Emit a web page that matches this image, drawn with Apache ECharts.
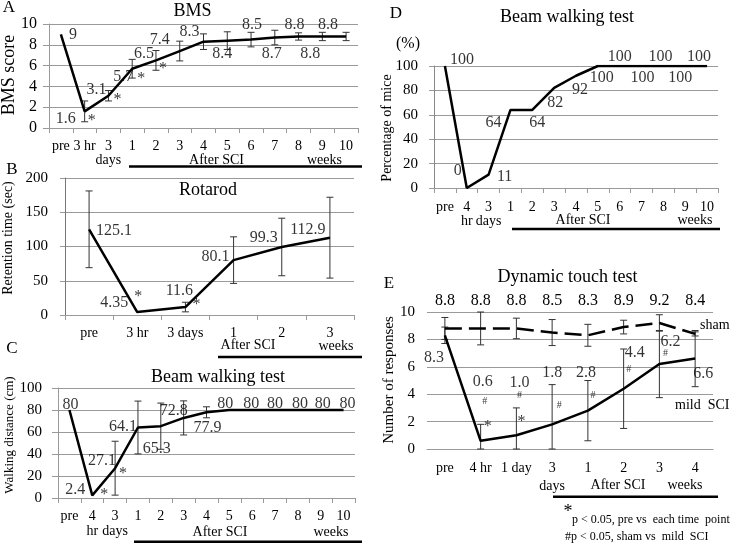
<!DOCTYPE html>
<html><head><meta charset="utf-8">
<script src="https://cdn.jsdelivr.net/npm/echarts@6/dist/echarts.min.js"></script>
<style>html,body{margin:0;padding:0;background:#fff}#c{width:731px;height:544px}</style>
</head><body><div id="c"></div>
<script>
// ---------- Panel A: BMS ----------
const catA = ['pre','3 hr','3\ndays','1','2','3','4','5','6','7','8','9','10'];
const bms = [9,1.6,3.1,5.7,6.5,7.4,8.3,8.4,8.5,8.7,8.8,8.8,8.8];
const bmsErr = [0,1.0,0.5,0.9,0.95,0.95,0.75,0.85,0.7,0.7,0.35,0.4,0.4];
const bmsStar = [0,1,1,1,1,0,0,0,0,0,0,0,0];
// ---------- Panel B: Rotarod ----------
const catB = ['pre','3 hr','3 days','1','2','3'];
const rotarod = [125.1,4.35,11.6,80.1,99.3,112.9];
const rotErr = [56,0,7,34,42,59];
const rotStar = [0,1,1,0,0,0];
// ---------- Panel C: Beam walking distance ----------
const catC = ['pre','4\nhr','3\ndays','1','2','3','4','5','6','7','8','9','10'];
const walkDist = [80,2.4,27.1,64.1,65.3,72.8,77.9,80,80,80,80,80,80];
const walkErr = [0,0,24.5,24,21,15.5,5,0,0,0,0,0,0];
const walkStar = [0,1,1,0,0,0,0,0,0,0,0,0,0];
// ---------- Panel D: Beam walking percentage ----------
const catD = ['pre','4\nhr','3\ndays','1','2','3','4','5','6','7','8','9','10'];
const pctMice = [100,0,11,64,64,82,92,100,100,100,100,100,100];
// ---------- Panel E: Dynamic touch ----------
const catE = ['pre','4 hr','1 day','3\ndays','1','2','3','4'];
const sham = [8.8,8.8,8.8,8.5,8.3,8.9,9.2,8.4];
const shamErr = [0.8,1.2,0.75,0.95,0.8,0.5,0.6,0.15];
const mild = [8.3,0.6,1.0,1.8,2.8,4.4,6.2,6.6];
const mildErr = [0.6,1.2,2.0,2.9,2.2,2.9,2.45,2.05];
const mildStar = [0,1,1,0,0,0,0,0];
const mildHash = [0,1,1,1,1,1,1,0];

// ---------- label placement (style only) ----------
const offA = [[12,0],[-19,7],[-12,-6],[-9,8],[-12,-7],[-20,-11],[-14,-10],[-5,13],[1,-15],[-3,16],[-4,-12],[-12,17],[-18,-12]];
const offB = [[25,1],[-23,-9],[-6,-16],[-18,-3],[-18,-9],[-22,-8]];
const offC = [[1,-5],[-17,-6],[-13,-7],[-15,-1],[-4,23],[-10,-7],[1,15],[-4,-6],[-1,-6],[0,-6],[2,-6],[2,-6],[4,-6]];
const offD = [[17,-6],[-9,-17],[16,2],[-17,13],[5,13],[1,15],[4,14],[4,12],[0,-9],[1,12],[-3,-9],[-5,12],[-8,-9]];
const offE = [[-11,23],[2,-59],[3,-53],[0,-52],[-2,-38],[11,-36],[11,-22],[8,15]];
const starOffA = [null,[7,9],[9,4],[9,10],[7,8]];
const starOffB = [null,[1,-15],[11,-2]];
const starOffC = [null,[12,-1],[8,6]];
const starOffE = [null,[7,-14],[5,-14]];
const hashOffE = [null,[4,-39],[3,-40],[7,-19],[5,-15],[5,-19],[6,-11]];

const FONT = '"Liberation Serif","Times New Roman",serif';
const GRID = '#9a9a9a';

function xAx(k, cats, o) {
  o = o || {};
  return {gridIndex:k, type:'category', data:cats, boundaryGap:true,
    axisLine:{show:true, lineStyle:{color:GRID, width:1}},
    axisTick:{show:o.tick!==false, length:5, lineStyle:{color:GRID}},
    axisLabel:{color:'#000', fontFamily:FONT, fontSize:14, margin:o.margin||11, lineHeight:o.lh||15, interval:0}};
}
function yAx(k, max, step, o) {
  o = o || {};
  return {gridIndex:k, type:'value', min:0, max:max, interval:step,
    axisLine:{show:o.line!==false, lineStyle:{color:o.lineColor||GRID}},
    axisTick:{show:o.tick!==false, length:o.tl||5, lineStyle:{color:GRID}},
    splitLine:{show:true, lineStyle:{color:GRID, width:1}},
    axisLabel:{color:'#000', fontFamily:FONT, fontSize:o.fs||15, margin:o.margin||12}};
}
function lineS(k, vals, dashed, xi) {
  return {type:'line', xAxisIndex:xi===undefined?k:xi, yAxisIndex:k, data:vals, symbol:'none', z:5,
    lineStyle:{color:'#000', width:2.5, type: dashed?[17,7]:'solid'}, silent:true};
}
function errS(k, vals, errs, xi) {
  return {type:'custom', xAxisIndex:xi===undefined?k:xi, yAxisIndex:k, z:4, silent:true,
    renderItem:function(p, api){
      const i = api.value(0), lo = Math.max(0, api.value(1)), hi = api.value(2);
      if (!(hi - lo > 0.001)) return null;
      const a = api.coord([i, hi]), b = api.coord([i, lo]), w = 3.5;
      const st = {stroke:'#333', lineWidth:1};
      return {type:'group', children:[
        {type:'line', shape:{x1:a[0],y1:a[1],x2:b[0],y2:b[1]}, style:st},
        {type:'line', shape:{x1:a[0]-w,y1:a[1],x2:a[0]+w,y2:a[1]}, style:st},
        {type:'line', shape:{x1:b[0]-w,y1:b[1],x2:b[0]+w,y2:b[1]}, style:st}]};
    },
    data: vals.map((v,i)=>[i, v-errs[i], v+errs[i]])};
}
function labS(k, vals, offs, fmt, fs, flags, text, xi) {
  const data = [];
  let n = 0;
  vals.forEach((v,i)=>{
    if (flags && !flags[i]) return;
    n++;
    const off = flags ? offs[n] : offs[i];
    data.push({value:[i,v], label:{offset:off, formatter: text || fmt(v)}});
  });
  return {type:'scatter', xAxisIndex:xi===undefined?k:xi, yAxisIndex:k, symbolSize:1, z:6, silent:true,
    itemStyle:{color:'rgba(0,0,0,0)'},
    label:{show:true, position:'inside', color:'#000', fontFamily:FONT, fontSize:fs, align:'center', verticalAlign:'middle'},
    data:data};
}
const str = v => String(v);
const f1 = v => v.toFixed(1);

function T(text, x, y, fs, extra) {
  return Object.assign({type:'text', x:x, y:y, silent:true,
    style:{text:text, fontFamily:FONT, fontSize:fs, fill:'#000', align:'center', verticalAlign:'middle'}}, extra||{});
}
function TL(text, x, y, fs) {
  return {type:'text', x:x, y:y, silent:true,
    style:{text:text, fontFamily:FONT, fontSize:fs, fill:'#000', align:'left', verticalAlign:'middle'}};
}
function L(x1, x2, y) {
  return {type:'line', silent:true, shape:{x1:x1,y1:y,x2:x2,y2:y}, style:{stroke:'#000', lineWidth:2.5}};
}
const R = Math.PI/2;

const option = {
  animation:false,
  grid:[
    {left:49, top:24, width:309, height:104},
    {left:65, top:178, width:289, height:137},
    {left:58, top:388, width:297, height:110},
    {left:434, top:66, width:284, height:122},
    {left:427, top:312, width:286, height:137}
  ],
  xAxis:[
    xAx(0, catA, {margin:11, lh:14}),
    xAx(1, catB, {margin:11, lh:14}),
    xAx(2, catC, {margin:11, lh:15}),
    xAx(3, catD, {margin:12, lh:14}),
    xAx(4, catE, {margin:10, lh:18, tick:false}),
    {gridIndex:4, type:'category', position:'top', data:sham.map(f1), boundaryGap:true,
      axisLine:{show:false}, axisTick:{show:false},
      axisLabel:{color:'#000', fontFamily:FONT, fontSize:16, margin:3, interval:0}}
  ],
  yAxis:[
    yAx(0, 10, 2, {fs:16, margin:12, tl:6}),
    yAx(1, 200, 50, {fs:15, margin:17, lineColor:'#777'}),
    yAx(2, 100, 20, {fs:15, margin:16, tl:6}),
    yAx(3, 100, 20, {fs:15, margin:16, lineColor:'#888'}),
    yAx(4, 10, 2, {fs:15, margin:12, line:false, tick:false})
  ],
  series:[
    lineS(0, bms), errS(0, bms, bmsErr), labS(0, bms, offA, str, 16),
    labS(0, bms, starOffA, null, 16, bmsStar, '*'),
    lineS(1, rotarod), errS(1, rotarod, rotErr), labS(1, rotarod, offB, str, 16),
    labS(1, rotarod, starOffB, null, 16, rotStar, '*'),
    lineS(2, walkDist), errS(2, walkDist, walkErr), labS(2, walkDist, offC, str, 16),
    labS(2, walkDist, starOffC, null, 16, walkStar, '*'),
    lineS(3, pctMice), labS(3, pctMice, offD, str, 16),
    lineS(4, sham, true), errS(4, sham, shamErr),
    lineS(4, mild), errS(4, mild, mildErr), labS(4, mild, offE, f1, 16),
    labS(4, mild, starOffE, null, 16, mildStar, '*'),
    labS(4, mild, hashOffE, null, 10, mildHash, '#')
  ],
  graphic:[
    // panel letters
    T('A', 9, 8, 17), T('B', 12, 170, 17), T('C', 12, 349, 17), T('D', 396, 14, 17), T('E', 389, 284, 17),
    // titles
    T('BMS', 192.5, 11, 18), T('Rotarod', 208, 190, 18), T('Beam walking test', 218, 377.5, 18),
    T('Beam walking test', 567, 17.5, 18), T('Dynamic touch test', 567.5, 277, 18),
    // y-axis names
    T('BMS score', 9, 75, 18, {rotation:R}),
    T('Retention time (sec)', 8, 238, 14, {rotation:R}),
    T('Walking distance (cm)', 10, 435, 13, {rotation:R}),
    T('Percentage of mice', 387, 128, 14, {rotation:R}),
    T('Number of responses', 389, 380, 15, {rotation:R}),
    T('(%)', 408, 44, 16),
    // after SCI annotations
    T('After SCI', 216.5, 160, 14), T('weeks', 324.5, 160, 14), L(129, 362, 166.5),
    T('After SCI', 248, 345, 14), T('weeks', 336, 346, 14), L(218, 362, 357),
    T('After SCI', 220, 532, 14), T('weeks', 331, 532, 14), L(134, 362, 541.7),
    T('After SCI', 583, 220, 14), T('weeks', 695, 220, 14), L(512, 720, 229),
    T('After SCI', 618, 485, 14), T('weeks', 685, 485, 14), L(553, 718, 496.7),
    // series names in E
    TL('sham', 700, 325, 14), TL('mild  SCI', 675, 405, 14),
    // footnotes
    T('*', 568, 512, 18), TL('p < 0.05, pre vs  each time  point', 572, 520, 12),
    TL('#p < 0.05, sham vs  mild  SCI', 565, 537, 12)
  ]
};
const chart = echarts.init(document.getElementById('c'), null, {renderer:'canvas'});
chart.setOption(option);
</script>
</body></html>
